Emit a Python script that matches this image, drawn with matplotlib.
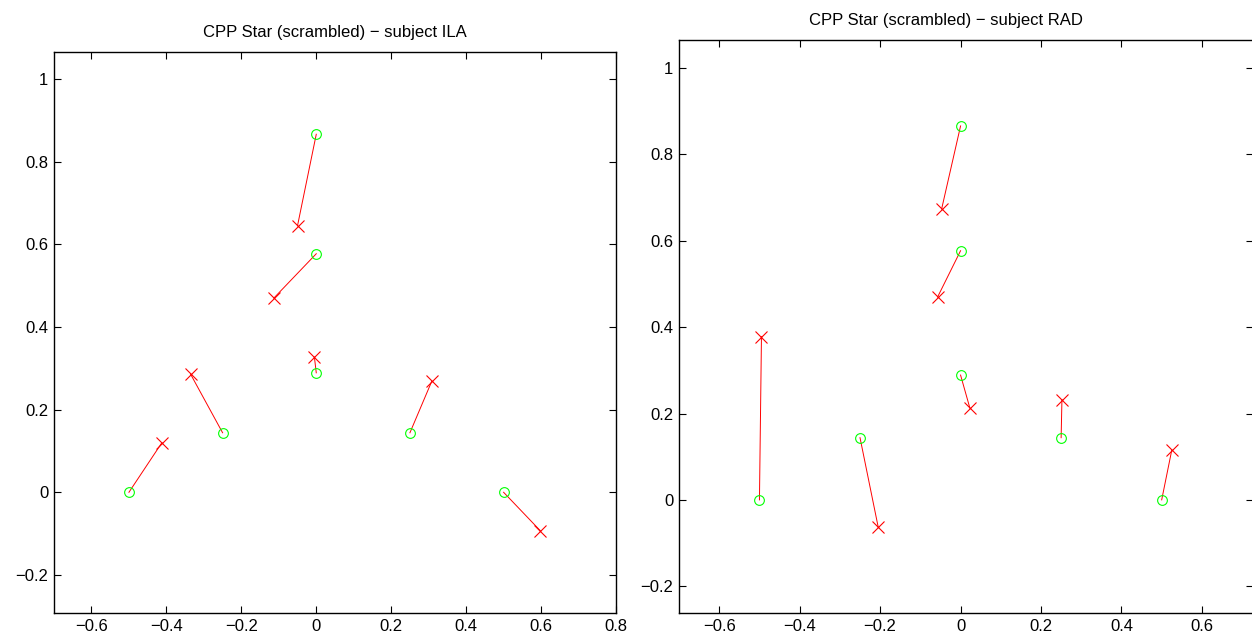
import matplotlib
matplotlib.use("Agg")
import matplotlib.pyplot as plt

plt.rcParams['font.family'] = ['Liberation Sans', 'DejaVu Sans']

# target star positions (same for both subjects)
target_x = [-0.5, -0.25, 0.0, 0.25, 0.5, 0.0, 0.0]
target_y = [0.0, 0.144, 0.289, 0.144, 0.0, 0.577, 0.866]

# responses, subject ILA
ila_x = [-0.412, -0.335, -0.005, 0.308, 0.598, -0.113, -0.05]
ila_y = [0.12, 0.285, 0.327, 0.268, -0.093, 0.47, 0.645]

# responses, subject RAD
rad_x = [-0.495, -0.205, 0.023, 0.252, 0.525, -0.057, -0.047]
rad_y = [0.378, -0.062, 0.213, 0.232, 0.115, 0.47, 0.674]

xticks = [-0.6, -0.4, -0.2, 0, 0.2, 0.4, 0.6, 0.8]
yticks = [-0.2, 0, 0.2, 0.4, 0.6, 0.8, 1]


def fmt(v):
    s = ('%g' % round(v, 2))
    return s.replace('-', '\u2212')


fig = plt.figure(figsize=(12.52, 6.43), dpi=100)
ax1 = fig.add_axes([54 / 1252, 1 - 613 / 643, 562 / 1252, 561 / 643])
ax2 = fig.add_axes([679 / 1252, 1 - 613 / 643, 574 / 1252, 573 / 643])

panels = [
    (ax1, ila_x, ila_y, 'CPP Star (scrambled) \u2212 subject ILA', (-0.7, 0.8), (-0.292, 1.065), 0.5),
    (ax2, rad_x, rad_y, 'CPP Star (scrambled) \u2212 subject RAD', (-0.7, 0.727), (-0.262, 1.065), 0.465),
]

for ax, rx, ry, title, xl, yl, tx in panels:
    # line from each target to its response
    for x0, y0, x1, y1 in zip(target_x, target_y, rx, ry):
        ax.plot([x0, x1], [y0, y1], color='red', lw=0.7)
    ax.plot(target_x, target_y, 'o', mfc='none', mec=(0, 1, 0), ms=7, mew=0.8, ls='none')
    ax.plot(rx, ry, 'x', color='red', ms=8, mew=0.8, ls='none')
    ax.set_xlim(*xl)
    ax.set_ylim(*yl)
    xt = [t for t in xticks if xl[0] <= t <= xl[1]]
    ax.set_xticks(xt)
    ax.set_xticklabels([fmt(t) for t in xt])
    ax.set_yticks(yticks)
    ax.set_yticklabels([fmt(t) for t in yticks])
    ax.tick_params(direction='in', top=True, right=True, length=5, width=0.8,
                   labelsize=12, pad=4)
    for sp in ax.spines.values():
        sp.set_linewidth(1.0)
    ax.set_title(title, fontsize=12, x=tx, pad=11)

fig.savefig('out.png', dpi=100)
